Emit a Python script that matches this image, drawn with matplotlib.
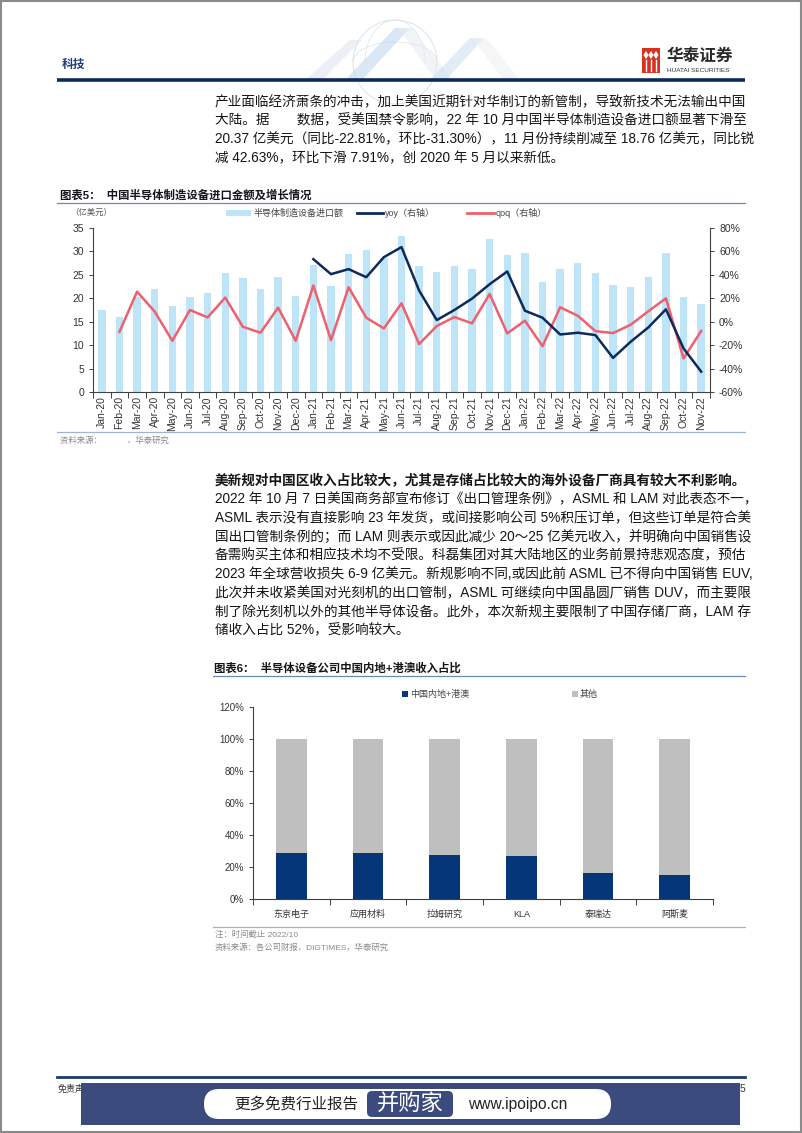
import numpy as np
import matplotlib.pyplot as plt
from matplotlib.patches import Rectangle, FancyBboxPatch, Polygon, Circle, Arc

plt.rcParams['font.family'] = ['Liberation Sans', 'Noto Sans CJK SC']
plt.rcParams['axes.unicode_minus'] = False

# ---- chart 5 data: China semiconductor equipment imports (100M USD) ----
months = ['Jan-20', 'Feb-20', 'Mar-20', 'Apr-20', 'May-20', 'Jun-20', 'Jul-20', 'Aug-20',
          'Sep-20', 'Oct-20', 'Nov-20', 'Dec-20', 'Jan-21', 'Feb-21', 'Mar-21', 'Apr-21',
          'May-21', 'Jun-21', 'Jul-21', 'Aug-21', 'Sep-21', 'Oct-21', 'Nov-21', 'Dec-21',
          'Jan-22', 'Feb-22', 'Mar-22', 'Apr-22', 'May-22', 'Jun-22', 'Jul-22', 'Aug-22',
          'Sep-22', 'Oct-22', 'Nov-22']
imports = [17.6, 16.1, 20.3, 22.0, 18.4, 20.2, 21.1, 25.5, 24.3, 22.0, 24.6, 20.5,
           27.0, 22.6, 29.4, 30.4, 28.6, 33.2, 26.8, 25.7, 26.8, 26.3, 32.6, 29.3,
           29.6, 23.4, 26.2, 27.6, 25.5, 22.9, 22.5, 24.6, 29.6, 20.37, 18.76]
nan = np.nan
yoy = [nan, nan, nan, nan, nan, nan, nan, nan, nan, nan, nan, nan,
       53.4, 40.6, 44.9, 38.0, 55.1, 63.7, 26.6, 1.4, 10.0, 19.7, 32.0, 42.9,
       9.4, 3.4, -10.9, -9.4, -11.4, -30.9, -17.1, -4.9, 10.6, -22.81, -42.63]
qoq = [nan, -8.6, 25.7, 8.6, -16.3, 10.0, 3.7, 20.6, -4.3, -9.4, 12.0, -16.3,
       30.9, -15.7, 29.4, 3.4, -5.7, 15.7, -19.1, -3.7, 4.0, -1.4, 23.7, -10.0,
       0.9, -20.9, 12.3, 5.1, -8.0, -9.7, -2.6, 8.9, 20.0, -31.30, -7.91]

# ---- chart 6 data: share of revenue from mainland China + HK/Macau ----
companies = ['东京电子', '应用材料', '拉姆研究', 'KLA', '泰瑞达', '阿斯麦']
china_share = [28.5, 28.5, 27.2, 26.8, 16.3, 15.0]
other_share = [71.5, 71.5, 72.8, 73.2, 83.7, 85.0]

para1 = ['产业面临经济萧条的冲击，加上美国近期针对华制订的新管制，导致新技术无法输出中国',
         '大陆。据　　数据，受美国禁令影响，22 年 10 月中国半导体制造设备进口额显著下滑至',
         '20.37 亿美元（同比-22.81%，环比-31.30%），11 月份持续削减至 18.76 亿美元，同比锐',
         '减 42.63%，环比下滑 7.91%，创 2020 年 5 月以来新低。']
para2 = ['美新规对中国区收入占比较大，尤其是存储占比较大的海外设备厂商具有较大不利影响。',
         '2022 年 10 月 7 日美国商务部宣布修订《出口管理条例》，ASML 和 LAM 对此表态不一，',
         'ASML 表示没有直接影响 23 年发货，或间接影响公司 5%积压订单，但这些订单是符合美',
         '国出口管制条例的；而 LAM 则表示或因此减少 20～25 亿美元收入，并明确向中国销售设',
         '备需购买主体和相应技术均不受限。科磊集团对其大陆地区的业务前景持悲观态度，预估',
         '2023 年全球营收损失 6-9 亿美元。新规影响不同,或因此前 ASML 已不得向中国销售 EUV,',
         '此次并未收紧美国对光刻机的出口管制，ASML 可继续向中国晶圆厂销售 DUV，而主要限',
         '制了除光刻机以外的其他半导体设备。此外，本次新规主要限制了中国存储厂商，LAM 存',
         '储收入占比 52%，受影响较大。']

bar_blue = '#bde5f7'
navy = '#0d2a5c'
red = '#f0606c'
dark_bar = '#06367a'
gray_bar = '#bfbfbf'
W, H = 802, 1133

fig = plt.figure(figsize=(W / 100, H / 100), dpi=100)

# page layer in pixel coordinates
page = fig.add_axes([0, 0, 1, 1], zorder=0)
page.set_xlim(0, W)
page.set_ylim(H, 0)
page.axis('off')


def txt(x, y, s, size=9.8, color='#151515', ha='left', va='center', **kw):
    page.text(x, y, s, fontsize=size, color=color, ha=ha, va=va, **kw)


# border
page.add_patch(Rectangle((0.8, 0.8), W - 1.6, H - 1.6, fill=False, ec='#8a8a8a', lw=1.5))

# header decoration (faint globe and chevrons)
page.add_patch(Circle((395, 62), 42, fill=False, ec='#dde2e8', lw=0.7))
page.add_patch(Arc((395, 62), 60, 84, theta1=180, theta2=360, ec='#dde2e8', lw=0.5))
page.add_patch(Arc((395, 62), 84, 40, theta1=180, theta2=360, ec='#dde2e8', lw=0.5))
for pts, c in [([(305, 80), (350, 40), (362, 40), (322, 80)], '#dbe5ef'),
               ([(345, 80), (395, 28), (410, 28), (362, 80)], '#bcd5ec'),
               ([(398, 28), (412, 28), (452, 80), (436, 80)], '#e6ebf0'),
               ([(430, 80), (470, 38), (484, 38), (446, 80)], '#c9def1'),
               ([(472, 38), (486, 38), (520, 80), (504, 80)], '#eceff3')]:
    page.add_patch(Polygon(pts, closed=True, fc=c, ec='none', alpha=0.55))

txt(62, 65, '科技', size=8.5, color='#1f3b7a', fontweight='bold')
page.plot([57, 745], [80, 80], color='#0d2a5c', lw=2.6, solid_capstyle='butt')

# logo
page.add_patch(Rectangle((642, 48), 18, 25, fc='#d8321f', ec='none'))
for cx in (646, 651, 656):
    page.add_patch(Polygon([(cx, 51), (cx + 2.6, 55), (cx, 59), (cx - 2.6, 55)], fc='white', ec='none'))
    page.plot([cx, cx], [60, 71], color='white', lw=1.0)
txt(667, 56, '华泰证券', size=12, color='#2a2a2a', fontweight='bold')
txt(667, 70, 'HUATAI SECURITIES', size=4.6, color='#333333')

# paragraph 1
for i, line in enumerate(para1):
    txt(215, 102 + i * 18.8, line)

# chart 5 title
txt(60, 195, '图表5：  中国半导体制造设备进口金额及增长情况', size=8.2, fontweight='bold')
page.plot([57, 745], [203, 203], color='#6d8bb0', lw=0.9)
txt(70, 213, '（亿美元）', size=6, color='#555555')

# chart 5 legend
page.add_patch(Rectangle((226, 210), 25, 6, fc=bar_blue, ec='none'))
txt(254, 213, '半导体制造设备进口额', size=6.5, color='#444444')
page.plot([357, 383], [213, 213], color=navy, lw=2)
txt(385, 213, 'yoy（右轴）', size=6.5, color='#444444')
page.plot([467, 494], [213, 213], color=red, lw=2)
txt(496, 213, 'qoq（右轴）', size=6.5, color='#444444')

# chart 5 axes
ax = fig.add_axes([93 / W, 1 - 392 / H, 617 / W, 164 / H], zorder=1)
ax.set_facecolor('none')
x = np.arange(len(months))
ax.bar(x, imports, width=0.42, color=bar_blue, zorder=1)
ax.set_xlim(-0.5, len(months) - 0.5)
ax.set_ylim(0, 35)
ax.set_yticks(np.arange(0, 36, 5))
ax.set_xticks(x)
ax.set_xticklabels(months, rotation=90, fontsize=7.5, color='#333333')
ax.set_xticks(np.arange(-0.5, len(months), 1), minor=True)
ax.tick_params(axis='x', which='major', length=0, pad=3)
ax.tick_params(axis='x', which='minor', length=4, width=0.7, color='#404040')
ax.tick_params(axis='y', labelsize=7.5, labelcolor='#333333', length=3, width=0.7, color='#404040')
ax.spines['top'].set_visible(False)
ax.spines['right'].set_visible(False)
for s in ('left', 'bottom'):
    ax.spines[s].set_color('#404040')
    ax.spines[s].set_linewidth(0.8)

ax2 = ax.twinx()
ax2.plot(x, yoy, color=navy, lw=1.8, zorder=3)
ax2.plot(x, qoq, color=red, lw=1.8, zorder=2)
ax2.set_ylim(-60, 80)
ax2.set_yticks(np.arange(-60, 81, 20))
ax2.set_yticklabels([f'{v}%' for v in range(-60, 81, 20)])
ax2.tick_params(axis='y', labelsize=7.5, labelcolor='#333333', length=3, width=0.7, color='#404040')
ax2.spines['top'].set_visible(False)
ax2.spines['left'].set_visible(False)
ax2.spines['bottom'].set_visible(False)
ax2.spines['right'].set_color('#404040')
ax2.spines['right'].set_linewidth(0.8)

# chart 5 source
page.plot([57, 745], [432, 432], color='#9fb6d2', lw=0.9)
txt(60, 441, '资料来源：　　　，华泰研究', size=6, color='#8a8a8a')

# paragraph 2
for i, line in enumerate(para2):
    txt(215, 481 + i * 18.7, line, fontweight='bold' if i == 0 else 'normal')

# chart 6 title
txt(214, 668, '图表6：  半导体设备公司中国内地+港澳收入占比', size=8.2, fontweight='bold')
page.plot([213, 745], [676, 676], color='#6d8bb0', lw=0.9)

# chart 6 legend
page.add_patch(Rectangle((402, 691), 6, 6, fc=dark_bar, ec='none'))
txt(410, 694, '中国内地+港澳', size=6.5, color='#444444')
page.add_patch(Rectangle((572, 691), 6, 6, fc=gray_bar, ec='none'))
txt(580, 694, '其他', size=6.5, color='#444444')

ax3 = fig.add_axes([253 / W, 1 - 899 / H, 460 / W, 192 / H], zorder=1)
ax3.set_facecolor('none')
xc = np.arange(len(companies))
ax3.bar(xc, china_share, width=0.4, color=dark_bar)
ax3.bar(xc, other_share, width=0.4, bottom=china_share, color=gray_bar)
ax3.set_xlim(-0.5, len(companies) - 0.5)
ax3.set_ylim(0, 120)
ax3.set_yticks(np.arange(0, 121, 20))
ax3.set_yticklabels([f'{v}%' for v in range(0, 121, 20)])
ax3.set_xticks(xc)
ax3.set_xticklabels(companies, fontsize=6.5, color='#333333')
ax3.set_xticks(np.arange(-0.5, len(companies), 1), minor=True)
ax3.tick_params(axis='x', which='major', length=0, pad=8)
ax3.tick_params(axis='x', which='minor', length=4, width=0.7, color='#404040')
ax3.tick_params(axis='y', labelsize=7, labelcolor='#333333', length=3, width=0.7, color='#404040')
ax3.spines['top'].set_visible(False)
ax3.spines['right'].set_visible(False)
for s in ('left', 'bottom'):
    ax3.spines[s].set_color('#404040')
    ax3.spines[s].set_linewidth(0.8)

page.plot([213, 745], [927, 927], color='#9fb6d2', lw=0.9)
txt(215, 935, '注：时间截止 2022/10', size=6, color='#8a8a8a')
txt(215, 948, '资料来源：各公司财报，DIGTIMES，华泰研究', size=6, color='#8a8a8a')

# footer
page.plot([57, 745], [1077, 1077], color='#1d3a6b', lw=2)
txt(58, 1089, '免责声明和披露以及分析师声明是报告的一部分，请务必一起阅读。', size=6.5,
    color='#333333', style='italic')
txt(745, 1089, '5', size=7.5, color='#333333', ha='right')
page.add_patch(Rectangle((81, 1083), 659, 42, fc='#3c4b7d', ec='none', zorder=5))
page.add_patch(FancyBboxPatch((204, 1089), 407, 30, boxstyle='round,pad=0,rounding_size=15',
                              fc='white', ec='none', zorder=6))
page.add_patch(FancyBboxPatch((367, 1091), 86, 26, boxstyle='round,pad=0,rounding_size=5',
                              fc='#3c4b7d', ec='none', zorder=7))
page.text(296, 1104, '更多免费行业报告', fontsize=11.2, color='#222222', ha='center', va='center', zorder=8)
page.text(410, 1104, '并购家', fontsize=16, color='white', ha='center', va='center', zorder=8)
page.text(518, 1104, 'www.ipoipo.cn', fontsize=11.2, color='#222222', ha='center', va='center', zorder=8)

fig.savefig('out.png', dpi=100)
